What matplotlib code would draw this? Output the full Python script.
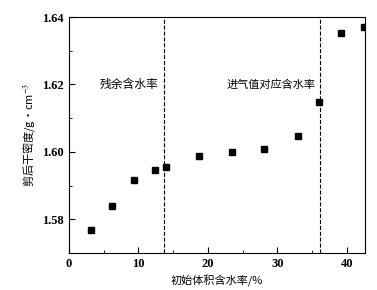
import matplotlib.pyplot as plt
from matplotlib.ticker import MultipleLocator

plt.rcParams['font.family'] = ['Liberation Serif', 'Noto Sans CJK SC']
plt.rcParams['mathtext.fontset'] = 'stix'

# initial volumetric water content (%) and dry density after shear (g/cm3)
water_content = [3.1, 6.2, 9.3, 12.4, 14.0, 18.7, 23.4, 28.1, 32.9, 36.0, 39.1, 42.4]
dry_density = [1.5768, 1.5838, 1.5916, 1.5947, 1.5956, 1.5989, 1.5999, 1.6009,
               1.6048, 1.6149, 1.6353, 1.6371]
residual_wc = 13.7
air_entry_wc = 36.2

fig = plt.figure(figsize=(3.77, 2.9), dpi=100)
ax = fig.add_axes([0.183, 0.128, 0.785, 0.813])

ax.plot(water_content, dry_density, 's', color='black', ms=4)
ax.axvline(residual_wc, color='black', ls='--', lw=0.8)
ax.axvline(air_entry_wc, color='black', ls='--', lw=0.8)

ax.text(8.6, 1.62, '残余含水率', ha='center', va='center', fontsize=8.5,
        family=['Noto Sans CJK SC'])
ax.text(29.1, 1.62, '进气值对应含水率', ha='center', va='center', fontsize=8,
        family=['Noto Sans CJK SC'])

ax.set_xlim(0, 42.6)
ax.set_ylim(1.570, 1.640)
ax.xaxis.set_major_locator(MultipleLocator(10))
ax.xaxis.set_minor_locator(MultipleLocator(5))
ax.yaxis.set_major_locator(MultipleLocator(0.02))
ax.yaxis.set_minor_locator(MultipleLocator(0.01))
ax.yaxis.set_major_formatter(plt.FuncFormatter(lambda v, p: '%.2f' % v))
ax.tick_params(which='both', direction='in', labelsize=9)
ax.tick_params(which='major', length=4)
ax.tick_params(which='minor', length=2.5)
for lbl in ax.get_xticklabels() + ax.get_yticklabels():
    lbl.set_fontweight('bold')

ax.set_xlabel('初始体积含水率/%', fontsize=8, family=['Noto Sans CJK SC', 'DejaVu Sans'])
ax.set_ylabel('剪后干密度/g·cm$^{-3}$', fontsize=8, family=['Noto Sans CJK SC', 'DejaVu Sans'])

fig.savefig('out.png', dpi=100)
